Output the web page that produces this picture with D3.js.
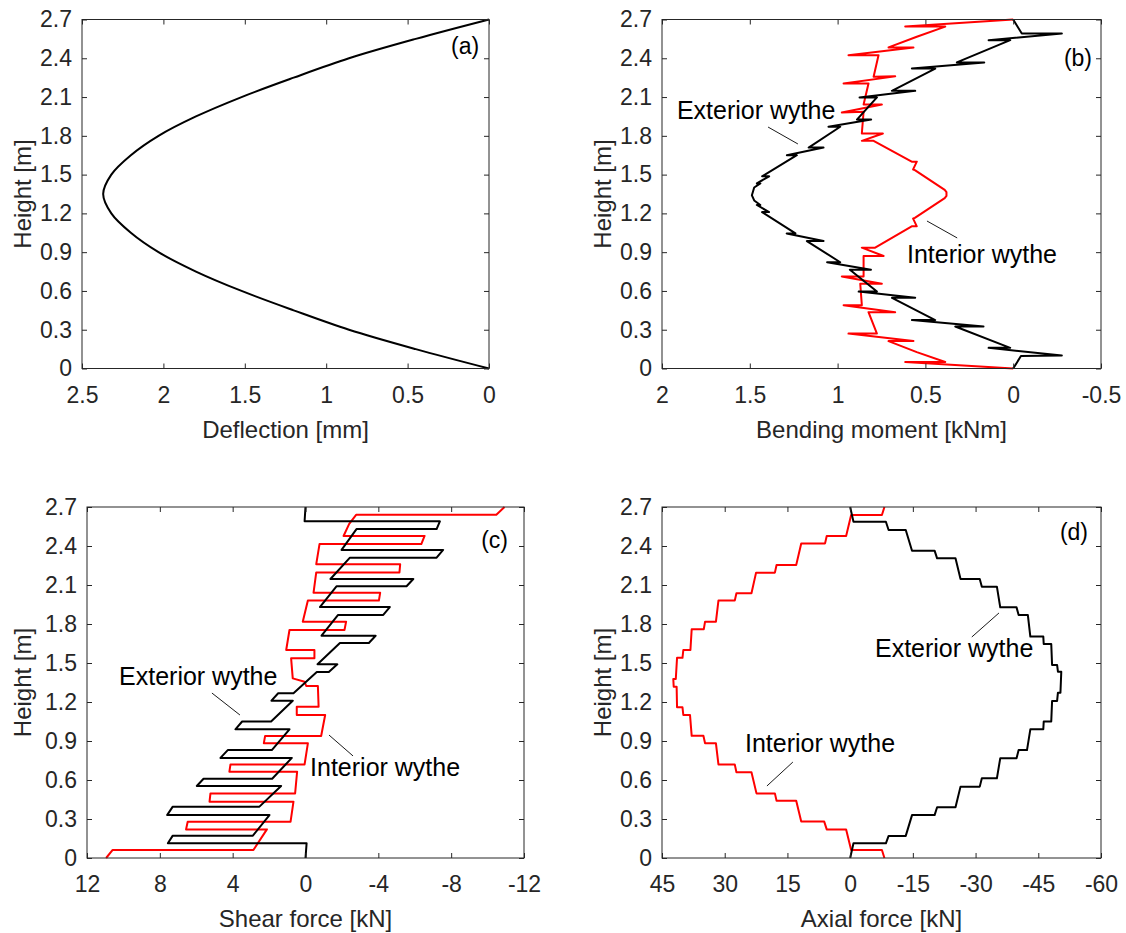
<!DOCTYPE html>
<html>
<head>
<meta charset="utf-8">
<script src="https://cdn.jsdelivr.net/npm/d3@7"></script>
<style>
  body { margin: 0; background: #fff; }
  svg { font-family: "Liberation Sans", Arial, Helvetica, sans-serif; }
</style>
</head>
<body>
<div id="chart"></div>
<script>
// ---- data: [value, height m] ----
const heightTicks = [0, 0.3, 0.6, 0.9, 1.2, 1.5, 1.8, 2.1, 2.4, 2.7];
const deflectionTicks = [2.5, 2, 1.5, 1, 0.5, 0];
const momentTicks = [2, 1.5, 1, 0.5, 0, -0.5];
const shearTicks = [12, 8, 4, 0, -4, -8, -12];
const axialTicks = [45, 30, 15, 0, -15, -30, -45, -60];

const deflection = [
  [0, 0], [0.45, 0.15], [0.86, 0.30], [1.20, 0.45], [1.52, 0.60], [1.80, 0.75],
  [2.03, 0.90], [2.20, 1.05], [2.32, 1.20], [2.37, 1.35], [2.32, 1.50], [2.20, 1.65],
  [2.03, 1.80], [1.80, 1.95], [1.52, 2.10], [1.20, 2.25], [0.86, 2.40], [0.45, 2.55],
  [0, 2.70]
];

const momentExterior = [
  [0, 0], [-0.044, 0.096], [-0.277, 0.10], [0.14, 0.16], [0.017, 0.16],
  [0.33, 0.325], [0.169, 0.325], [0.577, 0.375], [0.444, 0.375],
  [0.69, 0.547], [0.558, 0.547], [0.88, 0.595], [0.776, 0.595],
  [0.93, 0.764], [0.81, 0.764], [1.06, 0.822], [0.985, 0.822],
  [1.175, 0.986], [1.08, 0.986], [1.29, 1.045], [1.24, 1.045],
  [1.43, 1.21], [1.39, 1.21], [1.46, 1.265], [1.44, 1.265],
  [1.475, 1.30], [1.488, 1.34], [1.475, 1.40], [1.44, 1.432], [1.46, 1.432],
  [1.39, 1.487], [1.43, 1.487], [1.232, 1.65], [1.289, 1.65],
  [1.08, 1.709], [1.165, 1.709], [0.985, 1.87], [1.052, 1.87],
  [0.809, 1.926], [0.89, 1.926], [0.776, 2.097], [0.875, 2.097],
  [0.558, 2.148], [0.691, 2.148], [0.444, 2.32], [0.577, 2.32],
  [0.165, 2.368], [0.321, 2.368], [0.017, 2.54], [0.14, 2.54],
  [-0.277, 2.592], [-0.049, 2.592], [0, 2.70]
];

const momentInterior = [
  [0, 0], [0.615, 0.05], [0.387, 0.05], [0.549, 0.127], [0.71, 0.212], [0.568, 0.212],
  [0.938, 0.27], [0.776, 0.27], [0.824, 0.436], [0.672, 0.436], [0.966, 0.49], [0.862, 0.49],
  [0.871, 0.656], [0.748, 0.656], [0.976, 0.712], [0.852, 0.712], [0.852, 0.87], [0.738, 0.87],
  [0.862, 0.935], [0.786, 0.935], [0.578, 1.10], [0.549, 1.10], [0.57, 1.16], [0.56, 1.165],
  [0.39, 1.318], [0.38, 1.335], [0.38, 1.365], [0.39, 1.382], [0.56, 1.535], [0.57, 1.54],
  [0.549, 1.60], [0.578, 1.60], [0.795, 1.761], [0.862, 1.761], [0.742, 1.818], [0.862, 1.818],
  [0.852, 1.986], [0.976, 1.98], [0.748, 2.042], [0.852, 2.042], [0.824, 2.205], [0.966, 2.205],
  [0.672, 2.26], [0.795, 2.257], [0.767, 2.424], [0.938, 2.424], [0.568, 2.484], [0.71, 2.484],
  [0.549, 2.567], [0.387, 2.645], [0.615, 2.645], [0, 2.70]
];

const shearExterior = [
  [0, 0], [-0.06, 0.113], [7.56, 0.113], [7.29, 0.172], [2.89, 0.172], [1.98, 0.33],
  [7.6, 0.33], [7.29, 0.395], [2.53, 0.395], [1.34, 0.554], [5.97, 0.554], [5.6, 0.61],
  [1.83, 0.61], [0.75, 0.77], [4.67, 0.77], [4.27, 0.83], [1.85, 0.83], [0.88, 0.99],
  [3.85, 0.99], [3.48, 1.05], [1.89, 1.05], [0.70, 1.21], [1.87, 1.21], [1.5, 1.267],
  [0.66, 1.267], [-0.62, 1.43], [-1.28, 1.43], [-1.75, 1.49], [-0.66, 1.49], [-1.89, 1.654],
  [-3.48, 1.654], [-3.85, 1.71], [-0.88, 1.71], [-1.79, 1.87], [-4.27, 1.87], [-4.63, 1.93],
  [-0.79, 1.93], [-1.70, 2.09], [-5.55, 2.09], [-5.92, 2.146], [-1.37, 2.146], [-2.44, 2.31],
  [-7.2, 2.31], [-7.56, 2.37], [-1.98, 2.37], [-2.8, 2.53], [-7.2, 2.53], [-7.38, 2.59],
  [0.05, 2.59], [0, 2.70]
];

const shearInterior = [
  [10.95, 0], [10.59, 0.062], [2.86, 0.062], [2.12, 0.22], [6.56, 0.22], [6.47, 0.279],
  [0.82, 0.279], [0.66, 0.433], [5.27, 0.433], [5.22, 0.497], [0.57, 0.497], [0.46, 0.664],
  [4.18, 0.664], [4.12, 0.72], [0.05, 0.72], [-0.13, 0.882], [2.29, 0.882], [2.22, 0.938],
  [-0.86, 0.938], [-1.08, 1.10], [0.48, 1.10], [0.48, 1.164], [-0.72, 1.164], [-0.68, 1.323],
  [-0.04, 1.323], [0.05, 1.356], [0.70, 1.382], [0.79, 1.536], [-0.49, 1.536], [-0.49, 1.60],
  [1.06, 1.60], [0.88, 1.754], [-2.14, 1.754], [-2.23, 1.818], [0.15, 1.818], [-0.13, 1.98],
  [-4.03, 1.98], [-4.1, 2.04], [-0.44, 2.04], [-0.59, 2.197], [-5.16, 2.197], [-5.2, 2.26],
  [-0.59, 2.26], [-0.77, 2.415], [-6.36, 2.415], [-6.54, 2.477], [-2.09, 2.477], [-2.4, 2.57],
  [-2.78, 2.64], [-10.48, 2.64], [-10.93, 2.70]
];

const axialExterior = [
  [0, 0], [-0.8, 0.113], [-8.55, 0.113], [-9.2, 0.17], [-13.3, 0.17], [-14.8, 0.33],
  [-20.2, 0.33], [-20.8, 0.39], [-25.2, 0.39], [-26.4, 0.549], [-31.0, 0.549], [-31.5, 0.613],
  [-35.1, 0.613], [-35.9, 0.767], [-39.8, 0.767], [-40.3, 0.83], [-42.3, 0.83], [-43.1, 0.99],
  [-46.2, 0.99], [-46.3, 1.05], [-48.1, 1.05], [-48.3, 1.208], [-49.5, 1.208], [-49.7, 1.272],
  [-50.3, 1.272], [-50.5, 1.433], [-49.7, 1.433], [-49.5, 1.485], [-48.3, 1.485], [-48.1, 1.646],
  [-46.3, 1.646], [-46.2, 1.703], [-43.1, 1.703], [-42.5, 1.87], [-40.3, 1.87], [-39.8, 1.928],
  [-35.9, 1.928], [-35.1, 2.087], [-31.5, 2.087], [-31.0, 2.146], [-26.4, 2.146], [-25.2, 2.305],
  [-20.8, 2.305], [-20.2, 2.364], [-14.8, 2.364], [-13.3, 2.523], [-9.2, 2.523], [-8.55, 2.587],
  [-0.8, 2.587], [0, 2.70]
];

const axialInterior = [
  [-8.2, 0], [-7.6, 0.062], [-0.24, 0.062], [0.96, 0.22], [5.6, 0.22], [6.2, 0.28],
  [11.7, 0.28], [12.9, 0.44], [17.6, 0.44], [18.0, 0.497], [22.4, 0.497], [23.6, 0.659],
  [27.2, 0.659], [27.6, 0.72], [31.5, 0.72], [32.1, 0.882], [34.7, 0.882], [35.1, 0.94],
  [37.9, 0.94], [38.3, 1.10], [39.9, 1.10], [40.1, 1.159], [41.4, 1.159], [41.5, 1.318],
  [42.2, 1.318], [42.3, 1.377], [41.7, 1.377], [41.4, 1.54], [40.1, 1.54], [39.9, 1.6],
  [38.2, 1.6], [37.9, 1.76], [35.0, 1.76], [34.7, 1.818], [32.1, 1.818], [31.5, 1.98],
  [27.6, 1.98], [27.2, 2.036], [23.6, 2.036], [22.5, 2.195], [18.0, 2.195], [17.6, 2.254],
  [12.9, 2.254], [11.7, 2.42], [6.0, 2.42], [5.6, 2.477], [0.96, 2.477], [-0.24, 2.638],
  [-7.6, 2.638], [-8.2, 2.70]
];

// ---- layout ----
const width = 1126, height = 933;
const ink = "#262626";

const panels = [
  { left: 82, right: 489, top: 19.5, bottom: 368.5, xDomain: [2.5, 0], xTicks: deflectionTicks,
    xTitle: "Deflection [mm]", yTitleX: 31, tag: "(a)", tagAt: [0.06, 2.433],
    series: [{ data: deflection, color: "#000", curve: d3.curveCatmullRom }], notes: [] },
  { left: 662, right: 1101, top: 19.5, bottom: 368.5, xDomain: [2, -0.5], xTicks: momentTicks,
    xTitle: "Bending moment [kNm]", yTitleX: 611, tag: "(b)", tagAt: [-0.449, 2.34],
    series: [{ data: momentInterior, color: "#ff0000" }, { data: momentExterior, color: "#000" }],
    notes: [
      { text: "Exterior wythe", at: [1.915, 1.928], line: [[1.396, 1.868], [1.226, 1.737]] },
      { text: "Interior wythe", at: [0.605, 0.814], line: [[0.491, 1.141], [0.319, 1.01]] }
    ] },
  { left: 87, right: 524, top: 507, bottom: 858, xDomain: [12, -12], xTicks: shearTicks,
    xTitle: "Shear force [kN]", yTitleX: 31, tag: "(c)", tagAt: [-11.12, 2.385],
    series: [{ data: shearInterior, color: "#ff0000" }, { data: shearExterior, color: "#000" }],
    notes: [
      { text: "Exterior wythe", at: [10.24, 1.331], line: [[5.14, 1.269], [3.60, 1.10]] },
      { text: "Interior wythe", at: [-0.25, 0.631], line: [[-1.29, 0.946], [-2.61, 0.785]] }
    ] },
  { left: 662, right: 1101, top: 507, bottom: 858, xDomain: [45, -60], xTicks: axialTicks,
    xTitle: "Axial force [kN]", yTitleX: 611, tag: "(d)", tagAt: [-56.9, 2.446],
    series: [{ data: axialInterior, color: "#ff0000" }, { data: axialExterior, color: "#000" }],
    notes: [
      { text: "Exterior wythe", at: [-5.94, 1.548], line: [[-29.1, 1.70], [-35.6, 1.885]] },
      { text: "Interior wythe", at: [25.15, 0.818], line: [[19.9, 0.554], [13.7, 0.738]] }
    ] }
];

const svg = d3.select("#chart")
  .append("svg")
  .attr("width", width)
  .attr("height", height);

panels.forEach(p => {
  const x = d3.scaleLinear().domain(p.xDomain).range([p.left, p.right]);
  const y = d3.scaleLinear().domain([0, 2.7]).range([p.bottom, p.top]);
  const g = svg.append("g");

  const line = d3.line().x(d => x(d[0])).y(d => y(d[1]));

  p.series.forEach(s => {
    g.append("path")
      .datum(s.data)
      .attr("fill", "none")
      .attr("stroke", s.color)
      .attr("stroke-width", 2)
      .attr("stroke-linejoin", "round")
      .attr("d", line.curve(s.curve || d3.curveLinear));
  });

  // axes, ticks pointing inward on all four sides
  const styleAxis = sel => {
    sel.select(".domain").remove();
    sel.selectAll(".tick line").attr("stroke", ink);
    sel.selectAll(".tick text").attr("fill", ink).style("font-size", "23px");
  };

  g.append("g")
    .attr("transform", `translate(0,${p.bottom})`)
    .call(d3.axisBottom(x).tickValues(p.xTicks).tickFormat(String)
      .tickSizeInner(-5).tickSizeOuter(0).tickPadding(18))
    .call(styleAxis);

  g.append("g")
    .attr("transform", `translate(0,${p.top})`)
    .call(d3.axisTop(x).tickValues(p.xTicks).tickFormat("")
      .tickSizeInner(-5).tickSizeOuter(0))
    .call(styleAxis);

  g.append("g")
    .attr("transform", `translate(${p.left},0)`)
    .call(d3.axisLeft(y).tickValues(heightTicks).tickFormat(String)
      .tickSizeInner(-5).tickSizeOuter(0).tickPadding(10))
    .call(styleAxis);

  g.append("g")
    .attr("transform", `translate(${p.right},0)`)
    .call(d3.axisRight(y).tickValues(heightTicks).tickFormat("")
      .tickSizeInner(-5).tickSizeOuter(0))
    .call(styleAxis);

  g.append("rect")
    .attr("x", p.left)
    .attr("y", p.top)
    .attr("width", p.right - p.left)
    .attr("height", p.bottom - p.top)
    .attr("fill", "none")
    .attr("stroke", ink)
    .attr("stroke-width", 1);

  // axis titles
  g.append("text")
    .attr("x", (p.left + p.right) / 2)
    .attr("y", p.bottom + 69)
    .attr("text-anchor", "middle")
    .attr("fill", ink)
    .style("font-size", "24px")
    .text(p.xTitle);

  g.append("text")
    .attr("transform", `translate(${p.yTitleX},${(p.top + p.bottom) / 2}) rotate(-90)`)
    .attr("text-anchor", "middle")
    .attr("fill", ink)
    .style("font-size", "24px")
    .text("Height [m]");

  // panel tag
  g.append("text")
    .attr("x", x(p.tagAt[0]))
    .attr("y", y(p.tagAt[1]))
    .attr("text-anchor", "end")
    .attr("fill", "#000")
    .style("font-size", "23px")
    .text(p.tag);

  // annotations with leader lines
  p.notes.forEach(n => {
    g.append("line")
      .attr("x1", x(n.line[0][0])).attr("y1", y(n.line[0][1]))
      .attr("x2", x(n.line[1][0])).attr("y2", y(n.line[1][1]))
      .attr("stroke", "#000")
      .attr("stroke-width", 0.9);

    g.append("text")
      .attr("x", x(n.at[0]))
      .attr("y", y(n.at[1]))
      .attr("fill", "#000")
      .style("font-size", "25px")
      .text(n.text);
  });
});
</script>
</body>
</html>
